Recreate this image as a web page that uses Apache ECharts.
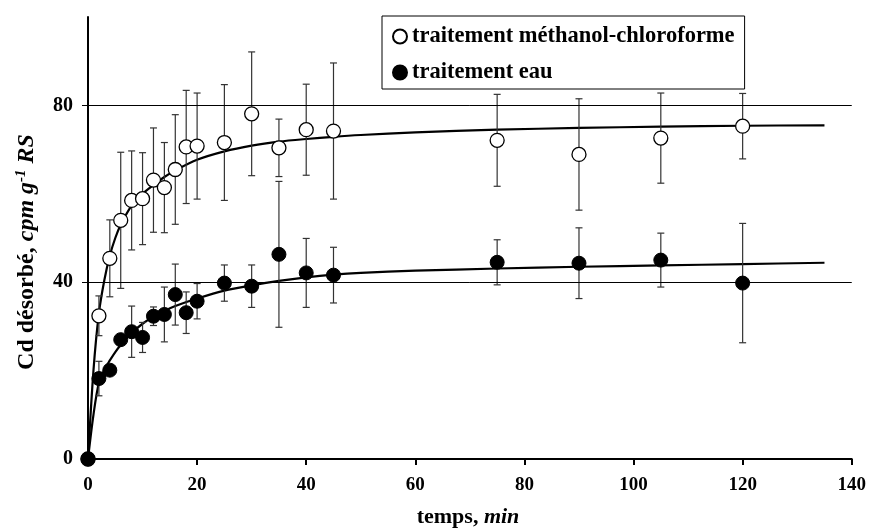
<!DOCTYPE html>
<html>
<head>
<meta charset="utf-8">
<script src="https://cdn.jsdelivr.net/npm/echarts@6/dist/echarts.min.js"></script>
<style>html,body{margin:0;padding:0;background:#fff;}#c{width:869px;height:529px;}</style>
</head>
<body>
<div id="c"></div>
<script>
// ---- data ----
var times = [0, 2, 4, 6, 8, 10, 12, 14, 16, 18, 20, 25, 30, 35, 40, 45, 75, 90, 105, 120];
var mcMean = [0, 32.4, 45.4, 54.0, 58.5, 58.9, 63.1, 61.4, 65.5, 70.6, 70.8, 71.6, 78.1, 70.4, 74.5, 74.2, 72.1, 68.9, 72.6, 75.3];
var mcErr  = [0, 4.5, 8.7, 15.4, 11.2, 10.4, 11.8, 10.2, 12.4, 12.8, 12.0, 13.1, 14.0, 6.5, 10.3, 15.4, 10.4, 12.6, 10.2, 7.4];
var eauMean = [0, 18.2, 20.1, 27.0, 28.8, 27.5, 32.3, 32.7, 37.2, 33.1, 35.7, 39.8, 39.1, 46.3, 42.1, 41.6, 44.5, 44.3, 45.0, 39.8];
var eauErr  = [0, 3.9, 1.0, 1.0, 5.8, 3.4, 2.1, 6.2, 6.9, 4.7, 4.0, 4.1, 4.8, 16.5, 7.8, 6.3, 5.1, 8.0, 6.1, 13.5];
var fitT   = [0, 1, 2, 3, 4, 5, 6, 8, 10, 12, 14, 16, 20, 25, 30, 35, 40, 45, 50, 60, 75, 90, 105, 120, 135];
var fitMC  = [0, 20, 33, 40.5, 46, 50, 53, 57.3, 60, 62, 63.8, 65.3, 67.7, 69.6, 70.9, 71.8, 72.4, 72.9, 73.3, 73.9, 74.5, 74.9, 75.2, 75.4, 75.5];
var fitEau = [0, 10, 17.3, 20.2, 22.3, 24.2, 25.8, 28.5, 30.6, 32.2, 33.5, 34.6, 36.3, 38.1, 39.3, 40.3, 41.1, 41.7, 42.1, 42.6, 43.1, 43.5, 43.8, 44.1, 44.4];
var xTicks = [0, 20, 40, 60, 80, 100, 120, 140];
var yTicks = [0, 40, 80];
var gridValues = [40, 80];
var nameMC = 'traitement méthanol-chloroforme';
var nameEau = 'traitement eau';

function pairs(xs, ys) { return xs.map(function (x, i) { return [x, ys[i]]; }); }
function errData(xs, m, e) { return xs.map(function (x, i) { return [x, m[i] - e[i], m[i] + e[i]]; }); }

var FONT = '"Liberation Serif", "Times New Roman", serif';

function errRender(params, api) {
  var x = api.value(0), lo = api.value(1), hi = api.value(2);
  if (hi - lo <= 0) return null;
  var p1 = api.coord([x, hi]), p2 = api.coord([x, lo]);
  var c = 3.5;
  var st = { stroke: '#333', lineWidth: 1.2 };
  return {
    type: 'group',
    children: [
      { type: 'line', shape: { x1: p1[0], y1: p1[1], x2: p2[0], y2: p2[1] }, style: st },
      { type: 'line', shape: { x1: p1[0] - c, y1: p1[1], x2: p1[0] + c, y2: p1[1] }, style: st },
      { type: 'line', shape: { x1: p2[0] - c, y1: p2[1], x2: p2[0] + c, y2: p2[1] }, style: st }
    ]
  };
}

var chart = echarts.init(document.getElementById('c'), null, { renderer: 'canvas' });
chart.setOption({
  animation: false,
  backgroundColor: '#fff',
  grid: { left: 88, right: 17, top: 17, bottom: 70 },
  xAxis: {
    type: 'value', min: 0, max: 140, interval: 20,
    axisLine: { show: true, onZero: false, lineStyle: { color: '#000', width: 2 } },
    axisTick: { show: true, length: 6, lineStyle: { color: '#000', width: 2 }, customValues: xTicks },
    axisLabel: { margin: 17, color: '#000', fontFamily: FONT, fontWeight: 'bold', fontSize: 19, customValues: xTicks },
    splitLine: { show: false }
  },
  yAxis: {
    type: 'value', min: 0, max: 100, interval: 20,
    axisLine: { show: true, onZero: false, lineStyle: { color: '#000', width: 2 } },
    axisTick: { show: true, length: 6, lineStyle: { color: '#000', width: 1 }, customValues: yTicks },
    axisLabel: { margin: 15, color: '#000', fontFamily: FONT, fontWeight: 'bold', fontSize: 20, customValues: yTicks },
    splitLine: { show: false }
  },
  legend: {
    left: 382, top: 16, orient: 'vertical',
    backgroundColor: '#fff', borderColor: '#000', borderWidth: 1,
    padding: [9, 10, 5, 10], itemGap: 13, itemWidth: 14, itemHeight: 14,
    data: [nameMC, nameEau],
    textStyle: { color: '#000', fontFamily: FONT, fontWeight: 'bold', fontSize: 22.5 }
  },
  graphic: [
    { type: 'text', x: 468, y: 517, style: {
        text: '{b|temps, }{i|min}', align: 'center', verticalAlign: 'middle',
        rich: { b: { fontFamily: FONT, fontWeight: 'bold', fontSize: 22, fill: '#000' },
                i: { fontFamily: FONT, fontWeight: 'bold', fontStyle: 'italic', fontSize: 22, fill: '#000' } } } },
    { type: 'text', x: 27, y: 252, rotation: Math.PI / 2, style: {
        text: '{b|Cd désorbé, }{i|cpm g}{s|-1}{i| RS}', align: 'center', verticalAlign: 'middle',
        rich: { b: { fontFamily: FONT, fontWeight: 'bold', fontSize: 24, fill: '#000' },
                i: { fontFamily: FONT, fontWeight: 'bold', fontStyle: 'italic', fontSize: 24, fill: '#000' },
                s: { fontFamily: FONT, fontWeight: 'bold', fontStyle: 'italic', fontSize: 15, fill: '#000', verticalAlign: 'top', padding: [0, 0, 11, 0] } } } }
  ],
  series: [
    { type: 'line', name: 'fitMC', data: pairs(fitT, fitMC), smooth: 0.3, showSymbol: false, z: 2,
      lineStyle: { color: '#000', width: 2.2 }, itemStyle: { color: '#000' },
      markLine: { silent: true, symbol: 'none', label: { show: false },
        lineStyle: { color: '#000', width: 1, type: 'solid' },
        data: gridValues.map(function (v) { return { yAxis: v }; }) } },
    { type: 'line', name: 'fitEau', data: pairs(fitT, fitEau), smooth: 0.3, showSymbol: false, z: 2,
      lineStyle: { color: '#000', width: 2.2 }, itemStyle: { color: '#000' } },
    { type: 'custom', name: 'errMC', renderItem: errRender, data: errData(times, mcMean, mcErr), z: 3 },
    { type: 'custom', name: 'errEau', renderItem: errRender, data: errData(times, eauMean, eauErr), z: 3 },
    { type: 'scatter', name: nameMC, data: pairs(times, mcMean), symbol: 'circle', symbolSize: 14, z: 5,
      itemStyle: { color: '#fff', borderColor: '#000', borderWidth: 1.3, opacity: 1 } },
    { type: 'scatter', name: nameEau, data: pairs(times, eauMean), symbol: 'circle', symbolSize: 14, z: 6,
      itemStyle: { color: '#000', borderColor: '#000', borderWidth: 1, opacity: 1 } }
  ]
});
</script>
</body>
</html>
